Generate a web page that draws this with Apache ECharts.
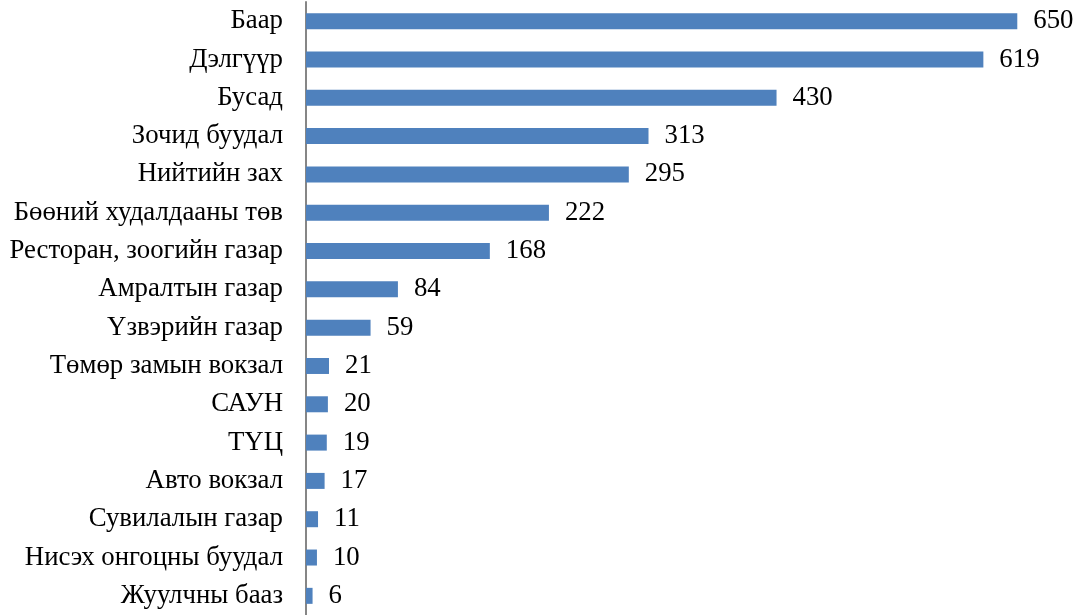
<!DOCTYPE html>
<html><head><meta charset="utf-8">
<script src="https://cdn.jsdelivr.net/npm/echarts@6/dist/echarts.min.js"></script>
<style>html,body{margin:0;padding:0;background:#fff}#c{width:1079px;height:615px}</style>
</head><body><div id="c"></div>
<script>
const categories = ["Баар","Дэлгүүр","Бусад","Зочид буудал","Нийтийн зах","Бөөний худалдааны төв","Ресторан, зоогийн газар","Амралтын газар","Үзвэрийн газар","Төмөр замын вокзал","САУН","ТҮЦ","Авто вокзал","Сувилалын газар","Нисэх онгоцны буудал","Жуулчны бааз"];
const values = [650,619,430,313,295,222,168,84,59,21,20,19,17,11,10,6];
const chart = echarts.init(document.getElementById('c'), null, {renderer:'canvas'});
chart.setOption({
  animation:false,
  grid:{left:306,right:7,top:2,bottom:-4,containLabel:false},
  xAxis:{type:'value',min:0,max:700,show:false},
  yAxis:{type:'category',data:categories,inverse:true,
    axisLine:{show:true,lineStyle:{color:'#868686',width:2}},
    axisTick:{show:false},
    axisLabel:{margin:23,color:'#000',fontFamily:'Liberation Serif',fontSize:26.8,padding:[3,0,0,0]}},
  series:[{type:'bar',data:values,barWidth:16,
    itemStyle:{color:'#4F81BD'},
    label:{show:true,position:'right',distance:16,color:'#000',fontFamily:'Liberation Serif',fontSize:26.8,padding:[3,0,0,0]}}]
});
</script></body></html>
